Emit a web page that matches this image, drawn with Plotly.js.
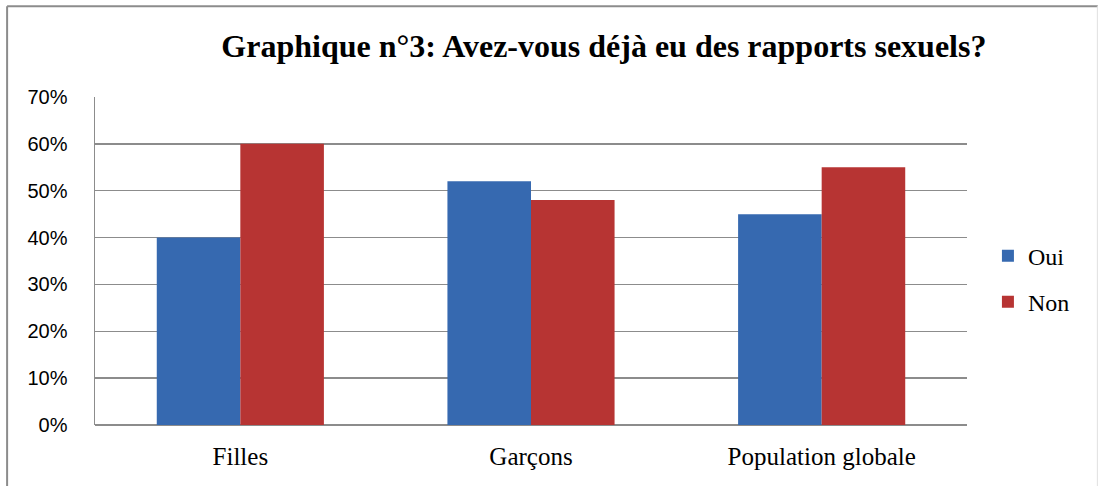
<!DOCTYPE html>
<html>
<head>
<meta charset="utf-8">
<script src="https://cdn.plot.ly/plotly-3.0.1.min.js"></script>
<style>html,body{margin:0;padding:0;background:#fff;}#chart{width:1100px;height:486px;}</style>
</head>
<body>
<div id="chart"></div>
<script>
const categories = ["Filles", "Garçons", "Population globale"];
const oui = [40, 52, 45];
const non = [60, 48, 55];
const yTicks = [0, 10, 20, 30, 40, 50, 60, 70];
const yTickLabels = ["0%", "10%", "20%", "30%", "40%", "50%", "60%", "70%"];

const traces = [
  {type: "bar", name: "Oui", x: categories, y: oui, legendgroup: "a",
   marker: {color: "#3669B0", line: {width: 0}}, hoverinfo: "x+y"},
  {type: "bar", name: "Non", x: categories, y: non, legendgroup: "b",
   marker: {color: "#B73433", line: {width: 0}}, hoverinfo: "x+y"}
];

const layout = {
  width: 1100, height: 486,
  margin: {l: 95, r: 133, t: 97, b: 61, pad: 0},
  paper_bgcolor: "#ffffff", plot_bgcolor: "#ffffff",
  barmode: "group", bargap: 0.425, bargroupgap: 0,
  title: {text: "<b>Graphique n°3: Avez-vous déjà eu des rapports sexuels?</b>",
          font: {family: "Liberation Serif", size: 32, color: "#000"},
          x: 0.549, xanchor: "center", y: 0.905, yanchor: "middle"},
  xaxis: {tickfont: {family: "Liberation Serif", size: 25, color: "#000"},
          ticklabelstandoff: 14,
          showgrid: false, showline: false, ticks: "", zeroline: false, fixedrange: true},
  yaxis: {range: [0, 70], tickvals: yTicks, ticktext: yTickLabels,
          tickfont: {family: "Liberation Sans", size: 20, color: "#000"},
          ticklabelstandoff: 22,
          showgrid: true, gridcolor: "#8c8c8c", gridwidth: 1.5,
          zeroline: true, zerolinecolor: "#8c8c8c", zerolinewidth: 1.5,
          showline: true, linecolor: "#8c8c8c", linewidth: 1.5,
          ticks: "", ticklen: 0, fixedrange: true},
  legend: {x: 1.024, xanchor: "left", y: 0.445, yanchor: "middle",
           font: {family: "Liberation Serif", size: 24, color: "#000"},
           tracegroupgap: 12, itemwidth: 30, bgcolor: "rgba(0,0,0,0)"},
  shapes: [
    {type: "line", xref: "paper", yref: "paper", x0: -0.1008, x1: 1.150, y0: 1.277, y1: 1.277,
     line: {color: "#8c8c8c", width: 2}},
    {type: "line", xref: "paper", yref: "paper", x0: -0.1008, x1: -0.1008, y0: -0.2, y1: 1.277,
     line: {color: "#8c8c8c", width: 2}},
    {type: "line", xref: "paper", yref: "paper", x0: 1.1495, x1: 1.1495, y0: -0.2, y1: 1.277,
     line: {color: "#e0e0e0", width: 1}}
  ]
};

Plotly.newPlot("chart", traces, layout, {displayModeBar: false, staticPlot: true});
</script>
</body>
</html>
